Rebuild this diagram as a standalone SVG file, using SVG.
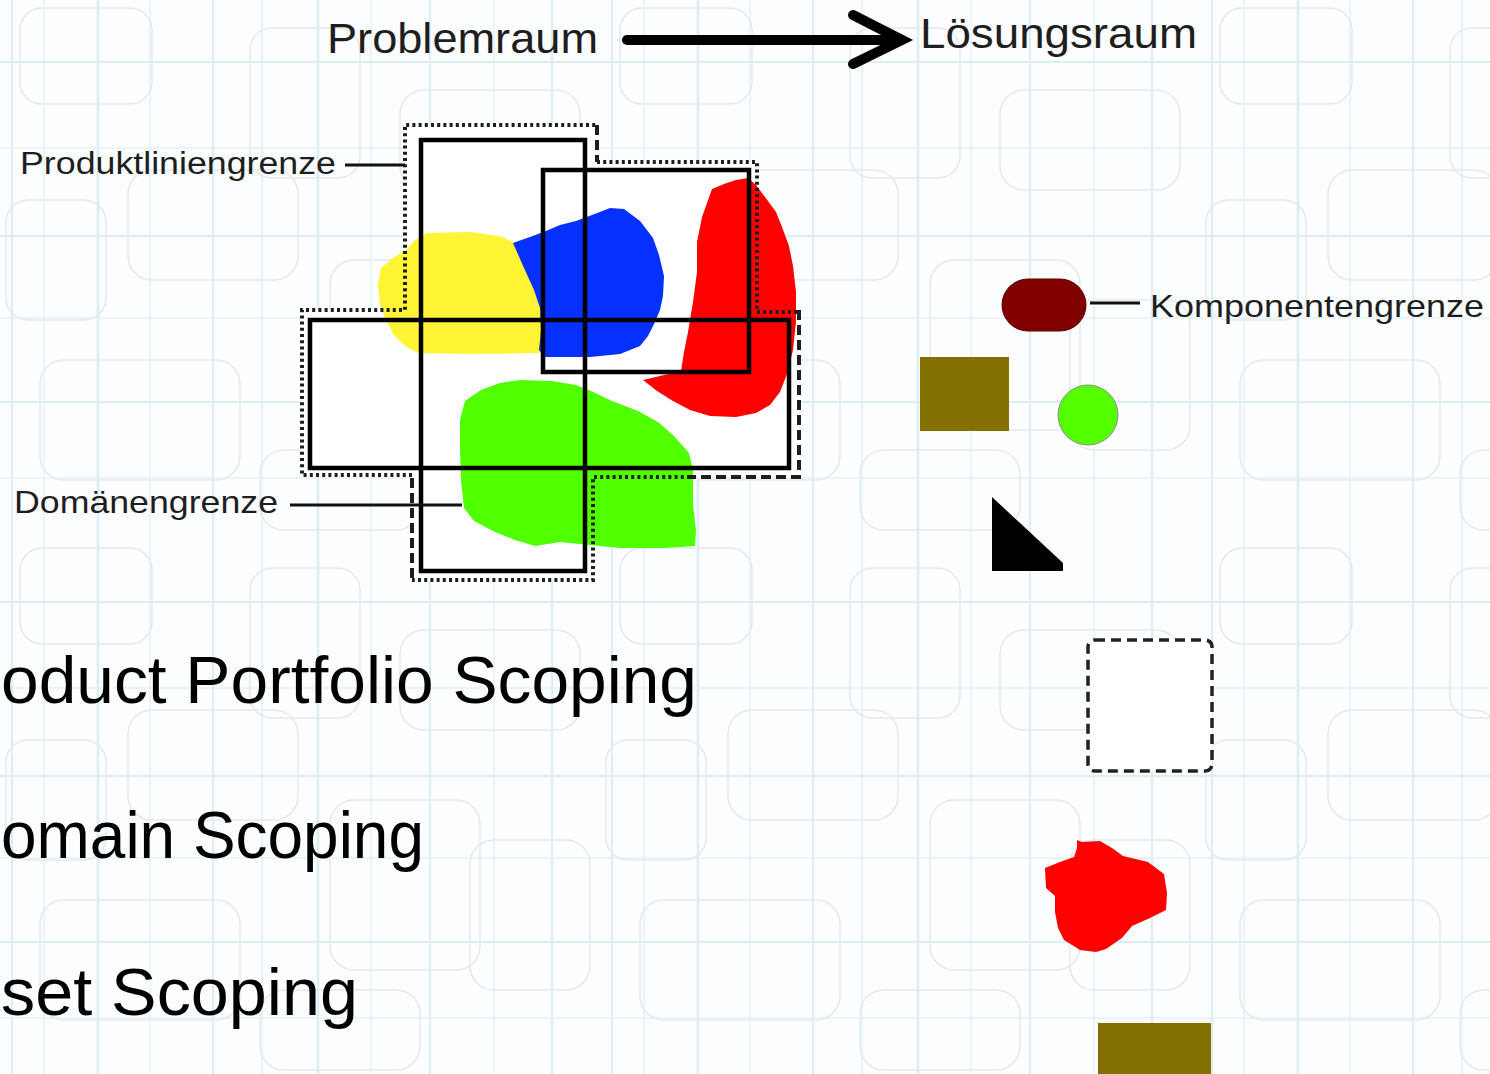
<svg xmlns="http://www.w3.org/2000/svg" width="1490" height="1074" viewBox="0 0 1490 1074">
  <defs>
    <!-- faint blueprint-like backdrop: thin blue rules and rounded outlines -->
    <pattern id="bgTile" x="0" y="0" width="600" height="540" patternUnits="userSpaceOnUse">
      <rect width="600" height="540" fill="#fbfdfe"/>
      <g stroke="#dcedf3" fill="none">
        <line x1="12" y1="0" x2="12" y2="540" stroke-width="2"/>
        <line x1="44" y1="0" x2="44" y2="540" stroke-width="1"/>
        <line x1="98" y1="0" x2="98" y2="540" stroke-width="2.5"/>
        <line x1="150" y1="0" x2="150" y2="540" stroke-width="1"/>
        <line x1="213" y1="0" x2="213" y2="540" stroke-width="2"/>
        <line x1="262" y1="0" x2="262" y2="540" stroke-width="1.2"/>
        <line x1="318" y1="0" x2="318" y2="540" stroke-width="2.4"/>
        <line x1="371" y1="0" x2="371" y2="540" stroke-width="1"/>
        <line x1="430" y1="0" x2="430" y2="540" stroke-width="1.8"/>
        <line x1="494" y1="0" x2="494" y2="540" stroke-width="1"/>
        <line x1="552" y1="0" x2="552" y2="540" stroke-width="2.2"/>
        <line x1="0" y1="62" x2="600" y2="62" stroke-width="1.8"/>
        <line x1="0" y1="148" x2="600" y2="148" stroke-width="1"/>
        <line x1="0" y1="236" x2="600" y2="236" stroke-width="2.2"/>
        <line x1="0" y1="318" x2="600" y2="318" stroke-width="1"/>
        <line x1="0" y1="402" x2="600" y2="402" stroke-width="1.8"/>
        <line x1="0" y1="478" x2="600" y2="478" stroke-width="1"/>
      </g>
      <g stroke="#e6e9eb" fill="none" stroke-width="1.5">
        <rect x="20" y="8" width="132" height="96" rx="22"/>
        <rect x="128" y="170" width="170" height="110" rx="24"/>
        <rect x="250" y="28" width="110" height="150" rx="22"/>
        <rect x="6" y="200" width="100" height="120" rx="22"/>
        <rect x="400" y="90" width="180" height="100" rx="24"/>
        <rect x="330" y="260" width="150" height="170" rx="24"/>
        <rect x="40" y="360" width="200" height="120" rx="24"/>
        <rect x="470" y="300" width="120" height="150" rx="24"/>
        <rect x="260" y="450" width="160" height="80" rx="24"/>
      </g>
    </pattern>
    <style>
      .label { font-family: "Liberation Sans", Arial, sans-serif; fill: #1e1e1e; }
      .big { font-family: "Liberation Sans", Arial, sans-serif; font-size: 67px; fill: #000; }
      .frame { fill: none; stroke: #000; stroke-width: 4.5; }
      .dots { fill: none; stroke: #1e1e1e; stroke-width: 4; stroke-dasharray: 3 3.2; }
      .dash { fill: none; stroke: #1e1e1e; stroke-width: 4; stroke-dasharray: 10 5; }
      .lead { fill: none; stroke: #111; stroke-width: 3; }
      .olive { fill: #847000; }
    </style>
  </defs>

  <!-- backdrop -->
  <rect width="1490" height="1074" fill="url(#bgTile)"/>

  <!-- product line area: white ground of the cross-shaped region -->
  <g id="area-ground">
    <path d="M405,125 H597 V162 H757 V312 H799 V477 H593 V580 H412 V475 H302 V310 H405 Z" fill="#fff"/>
  </g>

  <!-- feature blobs -->
  <g id="blob-yellow">
    <path fill="#fff534" d="M427,233 L470,232 L500,236 L515,243 L525,262 L535,282 L541,300 L546,322 L545,345 L540,353 L470,354 L418,353 L405,346 L394,335 L386,320 L380,305 L378,285 L381,268 L393,258 L406,250 L415,240 Z"/>
  </g>
  <g id="blob-blue">
    <path fill="#0530ff" d="M513,243 L530,237 L546,231 L560,225 L576,221 L592,215 L610,208 L624,209 L640,221 L653,238 L659,255 L664,276 L663,296 L660,310 L654,324 L648,336 L640,346 L620,354 L590,357 L545,357 L539,350 L541,330 L540,308 L534,290 L524,268 Z"/>
  </g>
  <g id="blob-red">
    <path fill="#ff0000" d="M712,189 L724,184 L736,180 L748,178 L756,185 L765,197 L776,212 L782,227 L789,246 L793,266 L796,292 L796,322 L793,350 L787,374 L780,392 L770,405 L756,413 L736,417 L710,416 L690,410 L673,401 L657,391 L643,380 L660,376 L681,371 L684,352 L688,332 L693,302 L697,272 L697,242 L702,217 Z"/>
  </g>
  <g id="blob-green">
    <path fill="#50ff00" d="M481,390 L500,383 L520,380 L552,381 L576,385 L591,391 L612,401 L638,411 L658,422 L674,436 L689,453 L693,470 L693,505 L696,530 L695,546 L665,548 L620,548 L590,545 L560,542 L535,546 L515,540 L495,532 L474,521 L464,508 L461,480 L460,450 L460,420 L465,401 Z"/>
  </g>

  <!-- solid scope frames -->
  <g id="frame-tall"><rect class="frame" x="421" y="140" width="164" height="431"/></g>
  <g id="frame-wide"><rect class="frame" x="310" y="320" width="479" height="148"/></g>
  <g id="frame-upper-right"><rect class="frame" x="543" y="170" width="206" height="202"/></g>

  <!-- product line boundary (dotted) and domain boundary (dashed) -->
  <g id="product-line-boundary">
    <path class="dots" d="M597,162 H757 V312 H797"/>
    <path class="dots" d="M690,477 H593 V580 H412"/>
    <path class="dots" d="M412,475 H302 V310 H405 V125 H597"/>
  </g>
  <g id="domain-boundary">
    <path class="dash" d="M597,125 V162"/>
    <path class="dash" d="M797,312 H799 V477 H690"/>
    <path class="dash" d="M412,578 V475"/>
  </g>

  <!-- solution space components -->
  <g id="component-boundary"><rect x="1002" y="279" width="84" height="52" rx="26" fill="#800000" stroke="#5c0000" stroke-width="1"/></g>
  <g id="component-olive"><rect class="olive" x="920" y="357" width="89" height="74"/></g>
  <g id="component-green"><circle cx="1088" cy="415" r="30" fill="#55ff00" stroke="#8a8a8a" stroke-width="1"/></g>
  <g id="component-triangle"><polygon points="992,497 1063,563 1063,571 992,571" fill="#000"/></g>
  <g id="component-dashed"><rect x="1088" y="640" width="124" height="131" rx="7" fill="#fff" stroke="#222" stroke-width="3.5" stroke-dasharray="10 6"/></g>
  <g id="component-red">
    <path fill="#ff0000" d="M1077,840 L1082,842 L1100,841 L1112,848 L1123,856 L1148,862 L1164,874 L1167,893 L1166,910 L1150,918 L1132,926 L1122,938 L1106,949 L1096,952 L1080,950 L1064,940 L1058,928 L1055,912 L1055,896 L1046,888 L1045,868 L1060,862 L1074,857 L1077,848 Z"/>
  </g>
  <g id="component-olive-bottom"><rect class="olive" x="1098" y="1023" width="113" height="60"/></g>

  <!-- connectors: leader lines and the problem-to-solution arrow -->
  <g id="connectors">
    <line class="lead" x1="345" y1="165" x2="405" y2="165"/>
    <line class="lead" x1="290" y1="505" x2="462" y2="505"/>
    <line class="lead" x1="1090" y1="303" x2="1140" y2="303"/>
    <line x1="627" y1="40" x2="898" y2="40" stroke="#000" stroke-width="10" stroke-linecap="round"/>
    <polyline points="853,15 902,40 853,64" fill="none" stroke="#000" stroke-width="10" stroke-linecap="round" stroke-linejoin="miter"/>
  </g>

  <!-- labels -->
  <g id="label-problemraum"><text class="label" x="327" y="53" font-size="42" textLength="271" lengthAdjust="spacingAndGlyphs">Problemraum</text></g>
  <g id="label-loesungsraum"><text class="label" x="920" y="48" font-size="42" textLength="277" lengthAdjust="spacingAndGlyphs">Lösungsraum</text></g>
  <g id="label-produktlinie"><text class="label" x="20" y="174" font-size="31" textLength="316" lengthAdjust="spacingAndGlyphs">Produktliniengrenze</text></g>
  <g id="label-domaene"><text class="label" x="14" y="513" font-size="32" textLength="264" lengthAdjust="spacingAndGlyphs">Domänengrenze</text></g>
  <g id="label-komponente"><text class="label" x="1150" y="317" font-size="32" textLength="334" lengthAdjust="spacingAndGlyphs">Komponentengrenze</text></g>

  <!-- scoping levels -->
  <g id="scoping-levels">
    <text class="big" x="1" y="703" textLength="696" lengthAdjust="spacingAndGlyphs">oduct Portfolio Scoping</text>
    <text class="big" x="1" y="858" textLength="423" lengthAdjust="spacingAndGlyphs">omain Scoping</text>
    <text class="big" x="1" y="1015" textLength="357" lengthAdjust="spacingAndGlyphs">set Scoping</text>
  </g>
</svg>
